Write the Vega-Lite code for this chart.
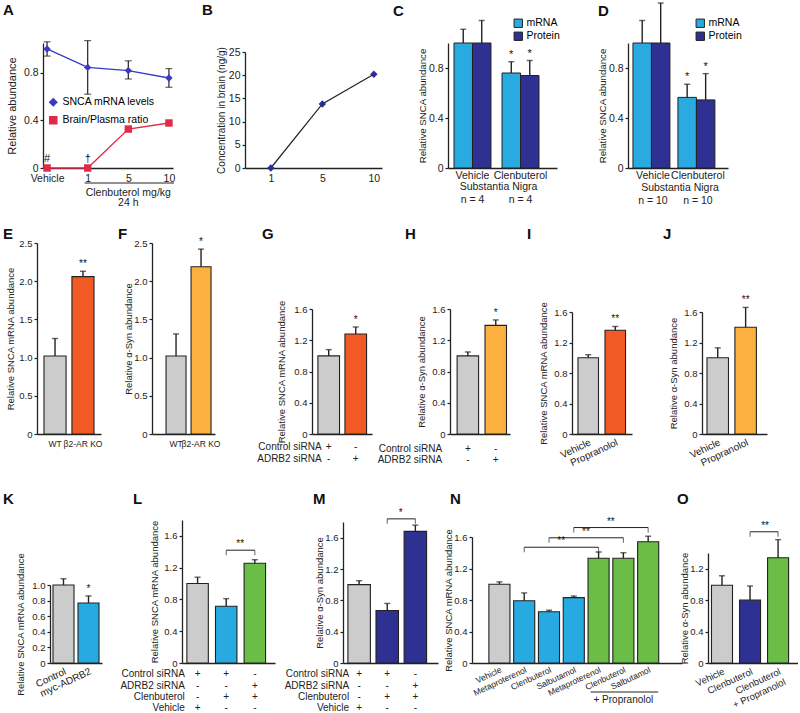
{
"$schema":"https://vega.github.io/schema/vega-lite/v6.json",
"background":"white",
"padding":{"left":3,"top":-11,"right":0,"bottom":0},
"spacing":0,
"resolve":{"scale":{"color":"independent","fill":"independent","stroke":"independent","shape":"independent"},"legend":{"color":"independent","fill":"independent","shape":"independent","stroke":"independent"}},
"config":{
 "font":"Liberation Sans",
 "view":{"stroke":null},
 "title":{"fontSize":15,"fontWeight":"bold","anchor":"start","frame":"group","color":"#111","baseline":"bottom"},
 "axis":{"domainColor":"#222","tickColor":"#222","labelColor":"#222","titleColor":"#222","grid":false,"domainWidth":1.3,"tickWidth":1.2,"titleFontWeight":"normal"},
 "axisY":{"tickSize":3,"labelPadding":2,"labelFontSize":9.5,"titleFontSize":9.5},
 "axisX":{"ticks":false,"labelFontSize":10,"labelPadding":3},
 "text":{"fontSize":10,"color":"#222"}
},
"vconcat":[
{"hconcat":[
 {"width":6,"height":193,"data":{"values":[{}]},"mark":{"type":"point","opacity":0},"encoding":{}},
 {"width":202,"height":193,
  "title":{"text":"A","dx":-40,"offset":2},
  "data":{"values":[
   {"dose":"Vehicle","s":"SNCA mRNA levels","v":1.0,"lo":0.94,"hi":1.06,"note":""},
   {"dose":"1","s":"SNCA mRNA levels","v":0.845,"lo":0.62,"hi":1.07,"note":""},
   {"dose":"5","s":"SNCA mRNA levels","v":0.818,"lo":0.748,"hi":0.9,"note":""},
   {"dose":"10","s":"SNCA mRNA levels","v":0.756,"lo":0.678,"hi":0.835,"note":""},
   {"dose":"Vehicle","s":"Brain/Plasma ratio","v":0,"lo":null,"hi":null,"note":"#"},
   {"dose":"1","s":"Brain/Plasma ratio","v":0,"lo":null,"hi":null,"note":"†"},
   {"dose":"5","s":"Brain/Plasma ratio","v":0.327,"lo":null,"hi":null,"note":""},
   {"dose":"10","s":"Brain/Plasma ratio","v":0.378,"lo":null,"hi":null,"note":""}]},
  "encoding":{"x":{"field":"dose","type":"ordinal","scale":{"type":"point","domain":["Vehicle","1","5","10"],"range":[0,130],"padding":0.1},"axis":{"title":null,"labelAngle":0,"labelPadding":5,"labelFontSize":10.5,"offset":-45}}},
  "layer":[
   {"mark":{"type":"line","strokeWidth":1.3},"encoding":{"y":{"field":"v","type":"quantitative","scale":{"domain":[0,1.05],"range":[148,23],"nice":false},"axis":{"title":"Relative abundance","values":[0,0.2,0.4,0.6,0.8,1],"labelExpr":"datum.value === 0 ? '0' : format(datum.value, '.1f')","titlePadding":6,"labelFontSize":10.5,"titleFontSize":11}},
     "color":{"field":"s","type":"nominal","scale":{"domain":["SNCA mRNA levels","Brain/Plasma ratio"],"range":["#3a3ac4","#e02a48"]},"legend":{"orient":"none","legendX":5,"legendY":77,"title":null,"labelFontSize":10.5,"symbolSize":50,"rowPadding":4,"labelOffset":4}}}},
   {"transform":[{"filter":"isValid(datum.hi)"}],"mark":{"type":"rule","color":"#222","strokeWidth":1.2},"encoding":{"y":{"field":"lo","type":"quantitative"},"y2":{"field":"hi"}}},
   {"transform":[{"filter":"isValid(datum.hi)"}],"mark":{"type":"tick","color":"#222","thickness":1.2,"size":7},"encoding":{"y":{"field":"hi","type":"quantitative"}}},
   {"transform":[{"filter":"isValid(datum.lo)"}],"mark":{"type":"tick","color":"#222","thickness":1.2,"size":7},"encoding":{"y":{"field":"lo","type":"quantitative"}}},
   {"mark":{"type":"point","filled":true,"size":55,"opacity":1},"encoding":{"y":{"field":"v","type":"quantitative"},
     "color":{"field":"s","type":"nominal","scale":{"domain":["SNCA mRNA levels","Brain/Plasma ratio"],"range":["#3a3ac4","#e02a48"]},"legend":{"orient":"none","legendX":5,"legendY":77,"title":null,"labelFontSize":10.5,"symbolSize":50,"rowPadding":4,"labelOffset":4}},
     "shape":{"field":"s","type":"nominal","scale":{"domain":["SNCA mRNA levels","Brain/Plasma ratio"],"range":["diamond","square"]},"legend":{"orient":"none","legendX":5,"legendY":77,"title":null,"labelFontSize":10.5,"symbolSize":50,"rowPadding":4,"labelOffset":4}}}},
   {"transform":[{"filter":"datum.note != ''"}],"mark":{"type":"text","dy":-9,"fontSize":11,"color":"#111"},"encoding":{"y":{"field":"v","type":"quantitative"},"text":{"field":"note"}}},
   {"data":{"values":[{}]},"mark":{"type":"rule","color":"#222","strokeWidth":1,"yOffset":15,"y2Offset":15,"xOffset":-3,"x2Offset":5},"encoding":{"x":{"datum":"1"},"x2":{"datum":"10"},"y":{"datum":0}}},
   {"data":{"values":[{}]},"mark":{"type":"text","dy":25,"fontSize":10.5},"encoding":{"x":{"datum":"5"},"y":{"datum":0},"text":{"value":"Clenbuterol   mg/kg"}}},
   {"data":{"values":[{}]},"mark":{"type":"text","dy":35,"fontSize":10.5},"encoding":{"x":{"datum":"5"},"y":{"datum":0},"text":{"value":"24 h"}}}
  ]},
 {"width":203,"height":193,
  "title":{"text":"B","dx":-43,"offset":2},
  "data":{"values":[{"dose":"1","v":0},{"dose":"5","v":13.8},{"dose":"10","v":20.2}]},
  "encoding":{"x":{"field":"dose","type":"ordinal","scale":{"type":"point","domain":["1","5","10"],"range":[0,137],"padding":0.33,"align":0.76},"axis":{"title":null,"labelAngle":0,"labelPadding":5,"labelFontSize":10.5,"offset":-45}},
   "y":{"field":"v","type":"quantitative","scale":{"domain":[0,25],"range":[148,32],"nice":false},"axis":{"title":"Concentration in brain (ng/g)","values":[0,5,10,15,20,25],"titlePadding":2,"labelFontSize":10.5,"titleFontSize":10}}},
  "layer":[
   {"mark":{"type":"line","color":"#222","strokeWidth":1.2}},
   {"mark":{"type":"point","filled":true,"shape":"diamond","size":55,"color":"#2b2b99","opacity":1}},
   {"data":{"values":[{}]},"mark":{"type":"rule","color":"#222","strokeWidth":1,"yOffset":15,"y2Offset":15,"x2Offset":9},"encoding":{"x":{"datum":"1"},"x2":{"datum":"10"},"y":{"datum":0}}},
   {"data":{"values":[{}]},"mark":{"type":"text","dy":25,"fontSize":10.5},"encoding":{"x":{"datum":"5"},"y":{"datum":0},"text":{"value":"Clenbuterol   mg/kg"}}},
   {"data":{"values":[{}]},"mark":{"type":"text","dy":37,"fontSize":10.5},"encoding":{"x":{"datum":"5"},"y":{"datum":0},"text":{"value":"24 h"}}}
  ]},
 {"width":180,"height":193,
  "title":{"text":"C","dx":-55,"offset":-11},
  "data":{"values":[
   {"cond":"Vehicle","type":"mRNA","v":1.0,"hi":1.11,"sig":""},
   {"cond":"Vehicle","type":"Protein","v":1.0,"hi":1.18,"sig":""},
   {"cond":"Clenbuterol","type":"mRNA","v":0.76,"hi":0.85,"sig":"*"},
   {"cond":"Clenbuterol","type":"Protein","v":0.74,"hi":0.86,"sig":"*"}]},
  "encoding":{"x":{"field":"cond","type":"nominal","scale":{"domain":["Vehicle","Clenbuterol"],"range":[0,109],"paddingInner":0.23,"paddingOuter":0.25,"align":0.25},"axis":{"title":null,"labelAngle":0,"labelPadding":2,"labelFontSize":10.5,"offset":-45}}},
  "layer":[
   {"mark":{"type":"bar","stroke":"#222","strokeWidth":1},"encoding":{"xOffset":{"field":"type","type":"nominal","scale":{"domain":["mRNA","Protein"],"paddingInner":0,"paddingOuter":0}},
     "y":{"field":"v","type":"quantitative","scale":{"domain":[0,1],"range":[148,23],"nice":false},"axis":{"title":"Relative SNCA abundance","values":[0,0.2,0.4,0.6,0.8,1],"labelExpr":"datum.value === 0 ? '0' : format(datum.value, '.1f')","titlePadding":1,"labelFontSize":10.5,"titleFontSize":9.7}},
     "color":{"field":"type","type":"nominal","scale":{"domain":["mRNA","Protein"],"range":["#29abe2","#2e3192"]},"legend":{"orient":"none","legendX":65,"legendY":-2,"title":null,"symbolType":"square","symbolSize":70,"symbolStrokeColor":"#222","symbolStrokeWidth":1,"labelFontSize":10.5,"rowPadding":0,"labelOffset":3}}}},
   {"mark":{"type":"rule","color":"#222","strokeWidth":1.4},"encoding":{"xOffset":{"field":"type","type":"nominal"},"y":{"field":"v","type":"quantitative"},"y2":{"field":"hi"}}},
   {"mark":{"type":"tick","color":"#222","thickness":1.4,"size":6},"encoding":{"xOffset":{"field":"type","type":"nominal"},"y":{"field":"hi","type":"quantitative"}}},
   {"mark":{"type":"text","dy":-2,"baseline":"bottom","fontSize":11,"color":"#111"},"encoding":{"xOffset":{"field":"type","type":"nominal"},"y":{"field":"hi","type":"quantitative"},"text":{"field":"sig"}}},
   {"data":{"values":[{"cond":"Vehicle","n":"n = 4"},{"cond":"Clenbuterol","n":"n = 4"}]},"mark":{"type":"text","dy":32,"fontSize":10.5},"encoding":{"y":{"datum":0},"text":{"field":"n"}}},
   {"data":{"values":[{}]},"mark":{"type":"text","dy":19,"dx":26,"fontSize":10.5},"encoding":{"x":{"datum":"Vehicle"},"y":{"datum":0},"text":{"value":"Substantia Nigra"}}}
  ]},
 {"width":100,"height":193,
  "title":{"text":"D","dx":-30,"offset":-29},
  "data":{"values":[
   {"cond":"Vehicle","type":"mRNA","v":1.0,"hi":1.18,"sig":""},
   {"cond":"Vehicle","type":"Protein","v":1.0,"hi":1.32,"sig":""},
   {"cond":"Clenbuterol","type":"mRNA","v":0.565,"hi":0.67,"sig":"*"},
   {"cond":"Clenbuterol","type":"Protein","v":0.545,"hi":0.755,"sig":"*"}]},
  "encoding":{"x":{"field":"cond","type":"nominal","scale":{"domain":["Vehicle","Clenbuterol"],"range":[0,100],"paddingInner":0.11,"paddingOuter":0.167,"align":0.33},"axis":{"title":null,"labelAngle":0,"labelPadding":2,"labelFontSize":10.5,"offset":-45}}},
  "layer":[
   {"mark":{"type":"bar","stroke":"#222","strokeWidth":1},"encoding":{"xOffset":{"field":"type","type":"nominal","scale":{"domain":["mRNA","Protein"],"paddingInner":0,"paddingOuter":0}},
     "y":{"field":"v","type":"quantitative","scale":{"domain":[0,1],"range":[148,23],"nice":false},"axis":{"title":"Relative SNCA abundance","values":[0,0.2,0.4,0.6,0.8,1],"labelExpr":"datum.value === 0 ? '0' : format(datum.value, '.1f')","titlePadding":1,"labelFontSize":10.5,"titleFontSize":9.7}},
     "color":{"field":"type","type":"nominal","scale":{"domain":["mRNA","Protein"],"range":["#29abe2","#2e3192"]},"legend":{"orient":"none","legendX":67,"legendY":-2,"title":null,"symbolType":"square","symbolSize":70,"symbolStrokeColor":"#222","symbolStrokeWidth":1,"labelFontSize":10.5,"rowPadding":0,"labelOffset":3}}}},
   {"mark":{"type":"rule","color":"#222","strokeWidth":1.4},"encoding":{"xOffset":{"field":"type","type":"nominal"},"y":{"field":"v","type":"quantitative"},"y2":{"field":"hi"}}},
   {"mark":{"type":"tick","color":"#222","thickness":1.4,"size":6},"encoding":{"xOffset":{"field":"type","type":"nominal"},"y":{"field":"hi","type":"quantitative"}}},
   {"mark":{"type":"text","dy":-2,"baseline":"bottom","fontSize":11,"color":"#111"},"encoding":{"xOffset":{"field":"type","type":"nominal"},"y":{"field":"hi","type":"quantitative"},"text":{"field":"sig"}}},
   {"data":{"values":[{"cond":"Vehicle","n":"n = 10"},{"cond":"Clenbuterol","n":"n = 10"}]},"mark":{"type":"text","dy":33,"fontSize":10.5},"encoding":{"y":{"datum":0},"text":{"field":"n"}}},
   {"data":{"values":[{}]},"mark":{"type":"text","dy":20,"dx":27,"fontSize":10.5},"encoding":{"x":{"datum":"Vehicle"},"y":{"datum":0},"text":{"value":"Substantia Nigra"}}}
  ]}
],"bounds":"flush","spacing":0,"resolve":{"scale":{"color":"independent","fill":"independent","stroke":"independent","shape":"independent"},"legend":{"color":"independent","fill":"independent","shape":"independent","stroke":"independent"}}},
{"hconcat":[
 {"width":115,"height":267,"title":{"text":"E","dx":-34,"dy":31,"offset":2},
  "data":{"values":[{"g":"WT","k":"ctrl","v":1.02,"hi":1.25,"sig":""},{"g":"β2-AR KO","k":"red","v":2.06,"hi":2.13,"sig":"**"}]},
  "encoding":{"x":{"field":"g","type":"nominal","scale":{"domain":["WT","β2-AR KO"],"range":[0,64],"paddingInner":0.21,"paddingOuter":0.25},"axis":{"title":null,"labelAngle":0,"labelPadding":5,"labelFontSize":8.5,"offset":-46}}},
  "layer":[
   {"mark":{"type":"bar","stroke":"#222","strokeWidth":1.1},"encoding":{"y":{"field":"v","type":"quantitative","scale":{"domain":[0,2.5],"range":[221,30],"nice":false},"axis":{"title":"Relative SNCA mRNA abundance","values":[0,0.5,1,1.5,2,2.5],"labelExpr":"datum.value === 0 ? '0' : format(datum.value, '.1f')","titlePadding":3}},"color":{"field":"k","type":"nominal","scale":{"domain":["ctrl","red","orange","blue","navy","green"],"range":["#cccccc","#f15a24","#fbb040","#27aae1","#2e3192","#6abd45"]},"legend":null}}},
   {"mark":{"type":"rule","color":"#222","strokeWidth":1.4},"encoding":{"y":{"field":"v","type":"quantitative"},"y2":{"field":"hi"}}},
   {"mark":{"type":"tick","color":"#222","thickness":1.4,"size":6},"encoding":{"y":{"field":"hi","type":"quantitative"}}},
   {"mark":{"type":"text","dy":-2,"baseline":"bottom","color":"#111"},"encoding":{"y":{"field":"hi","type":"quantitative"},"text":{"field":"sig"}}}
  ]},
 {"width":160,"height":267,"title":{"text":"F","dx":-34,"dy":31,"offset":2},
  "data":{"values":[{"g":"WT","k":"ctrl","v":1.02,"hi":1.31,"sig":""},{"g":"β2-AR KO","k":"orange","v":2.19,"hi":2.42,"sig":"*"}]},
  "encoding":{"x":{"field":"g","type":"nominal","scale":{"domain":["WT","β2-AR KO"],"range":[0,63],"paddingInner":0.2,"paddingOuter":0.36,"align":0.78},"axis":{"title":null,"labelAngle":0,"labelPadding":5,"labelFontSize":8.5,"offset":-46}}},
  "layer":[
   {"mark":{"type":"bar","stroke":"#222","strokeWidth":1.1},"encoding":{"y":{"field":"v","type":"quantitative","scale":{"domain":[0,2.5],"range":[221,30],"nice":false},"axis":{"title":"Relative α-Syn abundance","values":[0,0.5,1,1.5,2,2.5],"labelExpr":"datum.value === 0 ? '0' : format(datum.value, '.1f')","titlePadding":0}},"color":{"field":"k","type":"nominal","scale":{"domain":["ctrl","red","orange","blue","navy","green"],"range":["#cccccc","#f15a24","#fbb040","#27aae1","#2e3192","#6abd45"]},"legend":null}}},
   {"mark":{"type":"rule","color":"#222","strokeWidth":1.4},"encoding":{"y":{"field":"v","type":"quantitative"},"y2":{"field":"hi"}}},
   {"mark":{"type":"tick","color":"#222","thickness":1.4,"size":6},"encoding":{"y":{"field":"hi","type":"quantitative"}}},
   {"mark":{"type":"text","dy":-2,"baseline":"bottom","color":"#111"},"encoding":{"y":{"field":"hi","type":"quantitative"},"text":{"field":"sig"}}}
  ]},
 {"width":138,"height":267,"title":{"text":"G","dx":-50,"dy":31,"offset":2},
  "data":{"values":[{"g":"c","k":"ctrl","v":1.0,"hi":1.08,"sig":"","r1":"+","r2":"-"},{"g":"a","k":"red","v":1.28,"hi":1.37,"sig":"*","r1":"-","r2":"+"}]},
  "encoding":{"x":{"field":"g","type":"nominal","scale":{"domain":["c","a"],"range":[0,60],"paddingInner":0.2,"paddingOuter":0.21,"align":0.52},"axis":{"title":null,"labels":false,"offset":-46}}},
  "layer":[
   {"mark":{"type":"bar","stroke":"#222","strokeWidth":1.1},"encoding":{"y":{"field":"v","type":"quantitative","scale":{"domain":[0,1.6],"range":[221,96],"nice":false},"axis":{"title":"Relative SNCA mRNA abundance","values":[0,0.2,0.4,0.6,0.8,1,1.2,1.4,1.6],"labelExpr":"datum.value === 0 ? '0' : format(datum.value, '.1f')","titlePadding":7}},"color":{"field":"k","type":"nominal","scale":{"domain":["ctrl","red","orange","blue","navy","green"],"range":["#cccccc","#f15a24","#fbb040","#27aae1","#2e3192","#6abd45"]},"legend":null}}},
   {"mark":{"type":"rule","color":"#222","strokeWidth":1.4},"encoding":{"y":{"field":"v","type":"quantitative"},"y2":{"field":"hi"}}},
   {"mark":{"type":"tick","color":"#222","thickness":1.4,"size":6},"encoding":{"y":{"field":"hi","type":"quantitative"}}},
   {"mark":{"type":"text","dy":-2,"baseline":"bottom","color":"#111"},"encoding":{"y":{"field":"hi","type":"quantitative"},"text":{"field":"sig"}}},
   {"mark":{"type":"text","dy":13},"encoding":{"y":{"datum":0},"text":{"field":"r1"}}},
   {"mark":{"type":"text","dy":25},"encoding":{"y":{"datum":0},"text":{"field":"r2"}}},
   {"data":{"values":[{}]},"mark":{"type":"text","align":"right","dx":-7,"dy":13},"encoding":{"x":{"datum":"c"},"y":{"datum":0},"text":{"value":"Control siRNA"}}},
   {"data":{"values":[{}]},"mark":{"type":"text","align":"right","dx":-7,"dy":25},"encoding":{"x":{"datum":"c"},"y":{"datum":0},"text":{"value":"ADRB2 siRNA"}}}
  ]},
 {"width":122,"height":267,"title":{"text":"H","dx":-45,"dy":31,"offset":2},
  "data":{"values":[{"g":"c","k":"ctrl","v":1.0,"hi":1.05,"sig":"","r1":"+","r2":"-"},{"g":"a","k":"orange","v":1.39,"hi":1.46,"sig":"*","r1":"-","r2":"+"}]},
  "encoding":{"x":{"field":"g","type":"nominal","scale":{"domain":["c","a"],"range":[0,60],"paddingInner":0.23,"paddingOuter":0.19,"align":0.67},"axis":{"title":null,"labels":false,"offset":-46}}},
  "layer":[
   {"mark":{"type":"bar","stroke":"#222","strokeWidth":1.1},"encoding":{"y":{"field":"v","type":"quantitative","scale":{"domain":[0,1.6],"range":[221,96],"nice":false},"axis":{"title":"Relative α-Syn abundance","values":[0,0.2,0.4,0.6,0.8,1,1.2,1.4,1.6],"labelExpr":"datum.value === 0 ? '0' : format(datum.value, '.1f')","titlePadding":5}},"color":{"field":"k","type":"nominal","scale":{"domain":["ctrl","red","orange","blue","navy","green"],"range":["#cccccc","#f15a24","#fbb040","#27aae1","#2e3192","#6abd45"]},"legend":null}}},
   {"mark":{"type":"rule","color":"#222","strokeWidth":1.4},"encoding":{"y":{"field":"v","type":"quantitative"},"y2":{"field":"hi"}}},
   {"mark":{"type":"tick","color":"#222","thickness":1.4,"size":6},"encoding":{"y":{"field":"hi","type":"quantitative"}}},
   {"mark":{"type":"text","dy":-2,"baseline":"bottom","color":"#111"},"encoding":{"y":{"field":"hi","type":"quantitative"},"text":{"field":"sig"}}},
   {"mark":{"type":"text","dy":15},"encoding":{"y":{"datum":0},"text":{"field":"r1"}}},
   {"mark":{"type":"text","dy":26},"encoding":{"y":{"datum":0},"text":{"field":"r2"}}},
   {"data":{"values":[{}]},"mark":{"type":"text","align":"right","dx":-25.75,"dy":15},"encoding":{"x":{"datum":"c"},"y":{"datum":0},"text":{"value":"Control siRNA"}}},
   {"data":{"values":[{}]},"mark":{"type":"text","align":"right","dx":-25.75,"dy":26},"encoding":{"x":{"datum":"c"},"y":{"datum":0},"text":{"value":"ADRB2 siRNA"}}}
  ]},
 {"width":130,"height":267,"title":{"text":"I","dx":-45,"dy":31,"offset":2},
  "data":{"values":[{"g":"Vehicle","k":"ctrl","v":1.0,"hi":1.04,"sig":""},{"g":"Propranolol","k":"red","v":1.36,"hi":1.41,"sig":"**"}]},
  "encoding":{"x":{"field":"g","type":"nominal","scale":{"domain":["Vehicle","Propranolol"],"range":[0,60],"paddingInner":0.24,"paddingOuter":0.23,"align":0.48},"axis":{"title":null,"labelAngle":-25,"labelAlign":"right","labelBaseline":"top","labelPadding":3,"offset":-46}}},
  "layer":[
   {"mark":{"type":"bar","stroke":"#222","strokeWidth":1.1},"encoding":{"y":{"field":"v","type":"quantitative","scale":{"domain":[0,1.6],"range":[221,99],"nice":false},"axis":{"title":"Relative SNCA mRNA abundance","values":[0,0.2,0.4,0.6,0.8,1,1.2,1.4,1.6],"labelExpr":"datum.value === 0 ? '0' : format(datum.value, '.1f')","titlePadding":5}},"color":{"field":"k","type":"nominal","scale":{"domain":["ctrl","red","orange","blue","navy","green"],"range":["#cccccc","#f15a24","#fbb040","#27aae1","#2e3192","#6abd45"]},"legend":null}}},
   {"mark":{"type":"rule","color":"#222","strokeWidth":1.4},"encoding":{"y":{"field":"v","type":"quantitative"},"y2":{"field":"hi"}}},
   {"mark":{"type":"tick","color":"#222","thickness":1.4,"size":6},"encoding":{"y":{"field":"hi","type":"quantitative"}}},
   {"mark":{"type":"text","dy":-2,"baseline":"bottom","color":"#111"},"encoding":{"y":{"field":"hi","type":"quantitative"},"text":{"field":"sig"}}}
  ]},
 {"width":65,"height":267,"title":{"text":"J","dx":-39,"dy":31,"offset":2},
  "data":{"values":[{"g":"Vehicle","k":"ctrl","v":1.0,"hi":1.13,"sig":""},{"g":"Propranolol","k":"orange","v":1.4,"hi":1.66,"sig":"**"}]},
  "encoding":{"x":{"field":"g","type":"nominal","scale":{"domain":["Vehicle","Propranolol"],"range":[0,65],"paddingInner":0.23,"paddingOuter":0.28,"align":0.32},"axis":{"title":null,"labelAngle":-25,"labelAlign":"right","labelBaseline":"top","labelPadding":3,"offset":-46}}},
  "layer":[
   {"mark":{"type":"bar","stroke":"#222","strokeWidth":1.1},"encoding":{"y":{"field":"v","type":"quantitative","scale":{"domain":[0,1.6],"range":[221,99],"nice":false},"axis":{"title":"Relative α-Syn abundance","values":[0,0.2,0.4,0.6,0.8,1,1.2,1.4,1.6],"labelExpr":"datum.value === 0 ? '0' : format(datum.value, '.1f')","titlePadding":5}},"color":{"field":"k","type":"nominal","scale":{"domain":["ctrl","red","orange","blue","navy","green"],"range":["#cccccc","#f15a24","#fbb040","#27aae1","#2e3192","#6abd45"]},"legend":null}}},
   {"mark":{"type":"rule","color":"#222","strokeWidth":1.4},"encoding":{"y":{"field":"v","type":"quantitative"},"y2":{"field":"hi"}}},
   {"mark":{"type":"tick","color":"#222","thickness":1.4,"size":6},"encoding":{"y":{"field":"hi","type":"quantitative"}}},
   {"mark":{"type":"text","dy":-2,"baseline":"bottom","color":"#111"},"encoding":{"y":{"field":"hi","type":"quantitative"},"text":{"field":"sig"}}}
  ]}
],"bounds":"flush","spacing":0,"resolve":{"scale":{"color":"independent","fill":"independent","stroke":"independent","shape":"independent"},"legend":{"color":"independent","fill":"independent","shape":"independent","stroke":"independent"}}},
{"hconcat":[
 {"width":13,"height":233,"data":{"values":[{}]},"mark":{"type":"point","opacity":0},"encoding":{}},
 {"width":132,"height":233,"title":{"text":"K","dx":-47,"dy":29,"offset":2},
  "data":{"values":[{"g":"Control","k":"ctrl","v":1.0,"hi":1.08,"sig":""},{"g":"myc-ADRB2","k":"blue","v":0.77,"hi":0.86,"sig":"*"}]},
  "encoding":{"x":{"field":"g","type":"nominal","scale":{"domain":["Control","myc-ADRB2"],"range":[0,52],"paddingInner":0.16,"paddingOuter":0.12,"align":0.5},"axis":{"title":null,"labelAngle":-25,"labelAlign":"right","labelBaseline":"top","labelPadding":3,"offset":-50}}},
  "layer":[
   {"mark":{"type":"bar","stroke":"#222","strokeWidth":1.1},"encoding":{"y":{"field":"v","type":"quantitative","scale":{"domain":[0,1],"range":[183,105],"nice":false},"axis":{"title":"Relative SNCA mRNA abundance","values":[0,0.2,0.4,0.6,0.8,1],"labelExpr":"datum.value === 0 ? '0' : format(datum.value, '.1f')","titlePadding":6}},"color":{"field":"k","type":"nominal","scale":{"domain":["ctrl","red","orange","blue","navy","green"],"range":["#cccccc","#f15a24","#fbb040","#27aae1","#2e3192","#6abd45"]},"legend":null}}},
   {"mark":{"type":"rule","color":"#222","strokeWidth":1.4},"encoding":{"y":{"field":"v","type":"quantitative"},"y2":{"field":"hi"}}},
   {"mark":{"type":"tick","color":"#222","thickness":1.4,"size":6},"encoding":{"y":{"field":"hi","type":"quantitative"}}},
   {"mark":{"type":"text","dy":-2,"baseline":"bottom","color":"#111"},"encoding":{"y":{"field":"hi","type":"quantitative"},"text":{"field":"sig"}}}
  ]},
 {"width":161,"height":233,"title":{"text":"L","dx":-49,"dy":29,"offset":2},
  "data":{"values":[
   {"g":"a","k":"ctrl","v":1.0,"hi":1.08,"sig":"","r1":"+","r2":"-","r3":"-","r4":"+"},
   {"g":"b","k":"blue","v":0.715,"hi":0.81,"sig":"","r1":"+","r2":"-","r3":"+","r4":"-"},
   {"g":"c","k":"green","v":1.255,"hi":1.3,"sig":"","r1":"-","r2":"+","r3":"+","r4":"-"}]},
  "encoding":{"x":{"field":"g","type":"nominal","scale":{"domain":["a","b","c"],"range":[0,93],"paddingInner":0.25,"paddingOuter":0.25,"align":0.34},"axis":{"title":null,"labels":false,"offset":-50}}},
  "layer":[
   {"mark":{"type":"bar","stroke":"#222","strokeWidth":1.1},"encoding":{"y":{"field":"v","type":"quantitative","scale":{"domain":[0,1.8],"range":[183,40],"nice":false},"axis":{"title":"Relative SNCA mRNA abundance","values":[0,0.2,0.4,0.6,0.8,1,1.2,1.4,1.6,1.8],"labelExpr":"datum.value === 0 ? '0' : format(datum.value, '.1f')","titlePadding":4}},"color":{"field":"k","type":"nominal","scale":{"domain":["ctrl","red","orange","blue","navy","green"],"range":["#cccccc","#f15a24","#fbb040","#27aae1","#2e3192","#6abd45"]},"legend":null}}},
   {"mark":{"type":"rule","color":"#222","strokeWidth":1.4},"encoding":{"y":{"field":"v","type":"quantitative"},"y2":{"field":"hi"}}},
   {"mark":{"type":"tick","color":"#222","thickness":1.4,"size":6},"encoding":{"y":{"field":"hi","type":"quantitative"}}},
   {"mark":{"type":"text","dy":11},"encoding":{"y":{"datum":0},"text":{"field":"r1"}}},
   {"mark":{"type":"text","dy":23},"encoding":{"y":{"datum":0},"text":{"field":"r2"}}},
   {"mark":{"type":"text","dy":34},"encoding":{"y":{"datum":0},"text":{"field":"r3"}}},
   {"mark":{"type":"text","dy":45},"encoding":{"y":{"datum":0},"text":{"field":"r4"}}},
   {"data":{"values":[{}]},"mark":{"type":"text","align":"right","dx":-12.75,"dy":11},"encoding":{"x":{"datum":"a"},"y":{"datum":0},"text":{"value":"Control siRNA"}}},
   {"data":{"values":[{}]},"mark":{"type":"text","align":"right","dx":-12.75,"dy":23},"encoding":{"x":{"datum":"a"},"y":{"datum":0},"text":{"value":"ADRB2 siRNA"}}},
   {"data":{"values":[{}]},"mark":{"type":"text","align":"right","dx":-12.75,"dy":34},"encoding":{"x":{"datum":"a"},"y":{"datum":0},"text":{"value":"Clenbuterol"}}},
   {"data":{"values":[{}]},"mark":{"type":"text","align":"right","dx":-12.75,"dy":45},"encoding":{"x":{"datum":"a"},"y":{"datum":0},"text":{"value":"Vehicle"}}},
   {"data":{"values":[{"from":"b","to":"c","y":1.42,"sig":"**"}]},"mark":{"type":"rule","color":"#222","strokeWidth":1},"encoding":{"x":{"field":"from","type":"nominal"},"x2":{"field":"to"},"y":{"field":"y","type":"quantitative"}}},
   {"data":{"values":[{"from":"b","to":"c","y":1.42,"sig":"**"}]},"mark":{"type":"tick","orient":"vertical","color":"#222","thickness":1,"size":5,"yOffset":2.5},"encoding":{"x":{"field":"from","type":"nominal"},"y":{"field":"y","type":"quantitative"}}},
   {"data":{"values":[{"from":"b","to":"c","y":1.42,"sig":"**"}]},"mark":{"type":"tick","orient":"vertical","color":"#222","thickness":1,"size":5,"yOffset":2.5},"encoding":{"x":{"field":"to","type":"nominal"},"y":{"field":"y","type":"quantitative"}}},
   {"data":{"values":[{"from":"b","to":"c","y":1.42,"sig":"**"}]},"mark":{"type":"text","dx":14,"dy":-1,"baseline":"bottom","color":"#111"},"encoding":{"x":{"field":"from","type":"nominal"},"y":{"field":"y","type":"quantitative"},"text":{"field":"sig"}}}
  ]},
 {"width":129,"height":233,"title":{"text":"M","dx":-30,"dy":29,"offset":2},
  "data":{"values":[
   {"g":"a","k":"ctrl","v":1.0,"hi":1.05,"sig":"","r1":"+","r2":"-","r3":"-","r4":"+"},
   {"g":"b","k":"navy","v":0.67,"hi":0.76,"sig":"","r1":"+","r2":"-","r3":"+","r4":"-"},
   {"g":"c","k":"navy","v":1.68,"hi":1.76,"sig":"","r1":"-","r2":"+","r3":"+","r4":"-"}]},
  "encoding":{"x":{"field":"g","type":"nominal","scale":{"domain":["a","b","c"],"range":[0,95],"paddingInner":0.2,"paddingOuter":0.29,"align":0.3},"axis":{"title":null,"labels":false,"offset":-50}}},
  "layer":[
   {"mark":{"type":"bar","stroke":"#222","strokeWidth":1.1},"encoding":{"y":{"field":"v","type":"quantitative","scale":{"domain":[0,1.8],"range":[183,42],"nice":false},"axis":{"title":"Relative α-Syn abundance","values":[0,0.2,0.4,0.6,0.8,1,1.2,1.4,1.6,1.8],"labelExpr":"datum.value === 0 ? '0' : format(datum.value, '.1f')","titlePadding":0}},"color":{"field":"k","type":"nominal","scale":{"domain":["ctrl","red","orange","blue","navy","green"],"range":["#cccccc","#f15a24","#fbb040","#27aae1","#2e3192","#6abd45"]},"legend":null}}},
   {"mark":{"type":"rule","color":"#222","strokeWidth":1.4},"encoding":{"y":{"field":"v","type":"quantitative"},"y2":{"field":"hi"}}},
   {"mark":{"type":"tick","color":"#222","thickness":1.4,"size":6},"encoding":{"y":{"field":"hi","type":"quantitative"}}},
   {"mark":{"type":"text","dy":11},"encoding":{"y":{"datum":0},"text":{"field":"r1"}}},
   {"mark":{"type":"text","dy":23},"encoding":{"y":{"datum":0},"text":{"field":"r2"}}},
   {"mark":{"type":"text","dy":34},"encoding":{"y":{"datum":0},"text":{"field":"r3"}}},
   {"mark":{"type":"text","dy":45},"encoding":{"y":{"datum":0},"text":{"field":"r4"}}},
   {"data":{"values":[{}]},"mark":{"type":"text","align":"right","dx":-10,"dy":11},"encoding":{"x":{"datum":"a"},"y":{"datum":0},"text":{"value":"Control siRNA"}}},
   {"data":{"values":[{}]},"mark":{"type":"text","align":"right","dx":-10,"dy":23},"encoding":{"x":{"datum":"a"},"y":{"datum":0},"text":{"value":"ADRB2 siRNA"}}},
   {"data":{"values":[{}]},"mark":{"type":"text","align":"right","dx":-10,"dy":34},"encoding":{"x":{"datum":"a"},"y":{"datum":0},"text":{"value":"Clenbuterol"}}},
   {"data":{"values":[{}]},"mark":{"type":"text","align":"right","dx":-10,"dy":45},"encoding":{"x":{"datum":"a"},"y":{"datum":0},"text":{"value":"Vehicle"}}},
   {"data":{"values":[{"from":"b","to":"c","y":1.84,"sig":"*"}]},"mark":{"type":"rule","color":"#222","strokeWidth":1},"encoding":{"x":{"field":"from","type":"nominal"},"x2":{"field":"to"},"y":{"field":"y","type":"quantitative"}}},
   {"data":{"values":[{"from":"b","to":"c","y":1.84,"sig":"*"}]},"mark":{"type":"tick","orient":"vertical","color":"#222","thickness":1,"size":5,"yOffset":2.5},"encoding":{"x":{"field":"from","type":"nominal"},"y":{"field":"y","type":"quantitative"}}},
   {"data":{"values":[{"from":"b","to":"c","y":1.84,"sig":"*"}]},"mark":{"type":"tick","orient":"vertical","color":"#222","thickness":1,"size":5,"yOffset":2.5},"encoding":{"x":{"field":"to","type":"nominal"},"y":{"field":"y","type":"quantitative"}}},
   {"data":{"values":[{"from":"b","to":"c","y":1.84,"sig":"*"}]},"mark":{"type":"text","dx":13.5,"dy":-1,"baseline":"bottom","color":"#111"},"encoding":{"x":{"field":"from","type":"nominal"},"y":{"field":"y","type":"quantitative"},"text":{"field":"sig"}}}
  ]},
 {"width":236,"height":233,"title":{"text":"N","dx":-22,"dy":29,"offset":2},
  "data":{"values":[
   {"g":"V","k":"ctrl","v":1.0,"hi":1.03},
   {"g":"M","k":"blue","v":0.79,"hi":0.89},
   {"g":"C","k":"blue","v":0.65,"hi":0.67},
   {"g":"S","k":"blue","v":0.83,"hi":0.85},
   {"g":"MP","k":"green","v":1.33,"hi":1.41},
   {"g":"CP","k":"green","v":1.33,"hi":1.4},
   {"g":"SP","k":"green","v":1.54,"hi":1.61}]},
  "encoding":{"x":{"field":"g","type":"nominal","scale":{"domain":["V","M","C","S","MP","CP","SP"],"range":[0,210],"paddingInner":0.15,"paddingOuter":0.81,"align":0.42},"axis":{"title":null,"labelAngle":-25,"labelAlign":"right","labelBaseline":"top","labelPadding":2,"labelFontSize":8.5,"offset":-50,"labelExpr":"{'V':'Vehicle','M':'Metaproterenol','C':'Clenbuterol','S':'Salbutamol','MP':'Metaproterenol','CP':'Clenbuterol','SP':'Salbutamol'}[datum.value]"}}},
  "layer":[
   {"mark":{"type":"bar","stroke":"#222","strokeWidth":1.1},"encoding":{"y":{"field":"v","type":"quantitative","scale":{"domain":[0,1.6],"range":[183,57],"nice":false},"axis":{"title":"Relative SNCA mRNA abundance","values":[0,0.2,0.4,0.6,0.8,1,1.2,1.4,1.6],"labelExpr":"datum.value === 0 ? '0' : format(datum.value, '.1f')","titlePadding":0}},"color":{"field":"k","type":"nominal","scale":{"domain":["ctrl","red","orange","blue","navy","green"],"range":["#cccccc","#f15a24","#fbb040","#27aae1","#2e3192","#6abd45"]},"legend":null}}},
   {"mark":{"type":"rule","color":"#222","strokeWidth":1.4},"encoding":{"y":{"field":"v","type":"quantitative"},"y2":{"field":"hi"}}},
   {"mark":{"type":"tick","color":"#222","thickness":1.4,"size":6},"encoding":{"y":{"field":"hi","type":"quantitative"}}},
   {"data":{"values":[{"from":"M","to":"MP","y":1.47,"sig":"**"},{"from":"C","to":"CP","y":1.59,"sig":"**"},{"from":"S","to":"SP","y":1.72,"sig":"**"}]},"mark":{"type":"rule","color":"#222","strokeWidth":1},"encoding":{"x":{"field":"from","type":"nominal"},"x2":{"field":"to"},"y":{"field":"y","type":"quantitative"}}},
   {"data":{"values":[{"from":"M","to":"MP","y":1.47,"sig":"**"},{"from":"C","to":"CP","y":1.59,"sig":"**"},{"from":"S","to":"SP","y":1.72,"sig":"**"}]},"mark":{"type":"tick","orient":"vertical","color":"#222","thickness":1,"size":5,"yOffset":2.5},"encoding":{"x":{"field":"from","type":"nominal"},"y":{"field":"y","type":"quantitative"}}},
   {"data":{"values":[{"from":"M","to":"MP","y":1.47,"sig":"**"},{"from":"C","to":"CP","y":1.59,"sig":"**"},{"from":"S","to":"SP","y":1.72,"sig":"**"}]},"mark":{"type":"tick","orient":"vertical","color":"#222","thickness":1,"size":5,"yOffset":2.5},"encoding":{"x":{"field":"to","type":"nominal"},"y":{"field":"y","type":"quantitative"}}},
   {"data":{"values":[{"from":"M","to":"MP","y":1.47,"sig":"**"},{"from":"C","to":"CP","y":1.59,"sig":"**"},{"from":"S","to":"SP","y":1.72,"sig":"**"}]},"mark":{"type":"text","dx":37,"dy":-1,"baseline":"bottom","color":"#111"},"encoding":{"x":{"field":"from","type":"nominal"},"y":{"field":"y","type":"quantitative"},"text":{"field":"sig"}}},
   {"data":{"values":[{}]},"mark":{"type":"rule","color":"#222","strokeWidth":1,"yOffset":29,"y2Offset":29,"xOffset":-8,"x2Offset":10},"encoding":{"x":{"datum":"MP"},"x2":{"datum":"SP"},"y":{"datum":0}}},
   {"data":{"values":[{}]},"mark":{"type":"text","dy":37},"encoding":{"x":{"datum":"CP"},"y":{"datum":0},"text":{"value":"+ Propranolol"}}}
  ]},
 {"width":90,"height":233,"title":{"text":"O","dx":-31,"dy":29,"offset":2},
  "data":{"values":[
   {"g":"V","k":"ctrl","v":0.99,"hi":1.11},
   {"g":"C","k":"navy","v":0.8,"hi":0.98},
   {"g":"CP","k":"green","v":1.34,"hi":1.57}]},
  "encoding":{"x":{"field":"g","type":"nominal","scale":{"domain":["V","C","CP"],"range":[0,90],"paddingInner":0.25,"paddingOuter":0.23,"align":0.27},"axis":{"title":null,"labelAngle":-25,"labelAlign":"right","labelBaseline":"top","labelPadding":3,"labelFontSize":9.5,"offset":-50,"labelExpr":"datum.value == 'CP' ? ['Clenbuterol', '+ Propranolol'] : (datum.value == 'V' ? 'Vehicle' : 'Clenbuterol')"}}},
  "layer":[
   {"mark":{"type":"bar","stroke":"#222","strokeWidth":1.1},"encoding":{"y":{"field":"v","type":"quantitative","scale":{"domain":[0,1.4],"range":[183,73],"nice":false},"axis":{"title":"Relative α-Syn abundance","values":[0,0.2,0.4,0.6,0.8,1,1.2,1.4],"labelExpr":"datum.value === 0 ? '0' : format(datum.value, '.1f')","titlePadding":0}},"color":{"field":"k","type":"nominal","scale":{"domain":["ctrl","red","orange","blue","navy","green"],"range":["#cccccc","#f15a24","#fbb040","#27aae1","#2e3192","#6abd45"]},"legend":null}}},
   {"mark":{"type":"rule","color":"#222","strokeWidth":1.4},"encoding":{"y":{"field":"v","type":"quantitative"},"y2":{"field":"hi"}}},
   {"mark":{"type":"tick","color":"#222","thickness":1.4,"size":6},"encoding":{"y":{"field":"hi","type":"quantitative"}}},
   {"data":{"values":[{"from":"C","to":"CP","y":1.67,"sig":"**"}]},"mark":{"type":"rule","color":"#222","strokeWidth":1},"encoding":{"x":{"field":"from","type":"nominal"},"x2":{"field":"to"},"y":{"field":"y","type":"quantitative"}}},
   {"data":{"values":[{"from":"C","to":"CP","y":1.67,"sig":"**"}]},"mark":{"type":"tick","orient":"vertical","color":"#222","thickness":1,"size":5,"yOffset":2.5},"encoding":{"x":{"field":"from","type":"nominal"},"y":{"field":"y","type":"quantitative"}}},
   {"data":{"values":[{"from":"C","to":"CP","y":1.67,"sig":"**"}]},"mark":{"type":"tick","orient":"vertical","color":"#222","thickness":1,"size":5,"yOffset":2.5},"encoding":{"x":{"field":"to","type":"nominal"},"y":{"field":"y","type":"quantitative"}}},
   {"data":{"values":[{"from":"C","to":"CP","y":1.67,"sig":"**"}]},"mark":{"type":"text","dx":15,"dy":-1,"baseline":"bottom","color":"#111"},"encoding":{"x":{"field":"from","type":"nominal"},"y":{"field":"y","type":"quantitative"},"text":{"field":"sig"}}}
  ]}
],"bounds":"flush","spacing":0,"resolve":{"scale":{"color":"independent","fill":"independent","stroke":"independent","shape":"independent"},"legend":{"color":"independent","fill":"independent","shape":"independent","stroke":"independent"}}}
]
}
